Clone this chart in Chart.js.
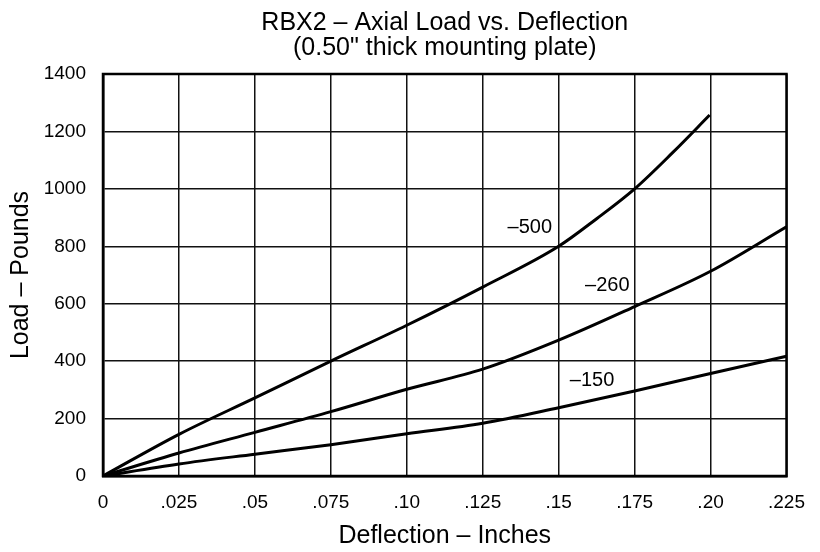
<!DOCTYPE html>
<html>
<head>
<meta charset="utf-8">
<script src="https://cdn.jsdelivr.net/npm/chart.js@4/dist/chart.umd.min.js"></script>
<style>
  html, body { margin: 0; padding: 0; background: #fff; }
  canvas { display: block; }
</style>
</head>
<body>
<canvas id="c" width="820" height="552"></canvas>
<script>
// ---- data ----
const titleLines = ['RBX2 – Axial Load vs. Deflection', '(0.50" thick mounting plate)'];
const xTitle = 'Deflection – Inches';
const yTitle = 'Load – Pounds';
const xTickValues = [0, 0.025, 0.05, 0.075, 0.10, 0.125, 0.15, 0.175, 0.20, 0.225];
const xTickLabels = ['0', '.025', '.05', '.075', '.10', '.125', '.15', '.175', '.20', '.225'];
const yTickValues = [0, 200, 400, 600, 800, 1000, 1200, 1400];
const yTickLabels = ['0', '200', '400', '600', '800', '1000', '1200', '1400'];
const deflection500 = [0, 0.025, 0.05, 0.075, 0.10, 0.125, 0.15, 0.1625, 0.175, 0.1875, 0.1997];
const load500 = [0, 145, 272, 400, 525, 658, 800, 896, 1000, 1126, 1257];
const deflection260 = [0, 0.025, 0.05, 0.075, 0.10, 0.125, 0.15, 0.175, 0.20, 0.225];
const load260 = [0, 80, 152, 224, 302, 372, 473, 590, 713, 868];
const deflection150 = [0, 0.025, 0.05, 0.075, 0.10, 0.125, 0.15, 0.175, 0.20, 0.225];
const load150 = [0, 42, 76, 109, 147, 184, 238, 296, 357, 417];
const seriesNames = ['–500', '–260', '–150'];
const labelAnchorX = [0.1405, 0.166, 0.161];
const labelAnchorY = [866, 665, 331];

const FONT = "'Liberation Sans', Arial, Helvetica, sans-serif";
Chart.defaults.font.family = FONT;
Chart.defaults.color = '#000';

function pts(xs, ys) { return ys.map((y, i) => ({ x: xs[i], y: y })); }

const frame = {
  id: 'frame',
  afterDatasetsDraw(chart) {
    const { ctx, chartArea: a } = chart;
    ctx.save();
    ctx.strokeStyle = '#000';
    ctx.lineWidth = 2.5;
    ctx.strokeRect(a.left, a.top, a.right - a.left, a.bottom - a.top);
    ctx.restore();
  }
};

const curveLabels = {
  id: 'curveLabels',
  afterDatasetsDraw(chart) {
    const { ctx, scales } = chart;
    ctx.save();
    ctx.fillStyle = '#000';
    ctx.font = '20px ' + FONT;
    ctx.textAlign = 'center';
    ctx.textBaseline = 'middle';
    seriesNames.forEach((n, i) => {
      ctx.fillText(n, scales.x.getPixelForValue(labelAnchorX[i]), scales.y.getPixelForValue(labelAnchorY[i]));
    });
    ctx.restore();
  }
};

const topTitle = {
  id: 'topTitle',
  afterDraw(chart) {
    const { ctx, chartArea: a } = chart;
    const cx = (a.left + a.right) / 2;
    ctx.save();
    ctx.fillStyle = '#000';
    ctx.font = '25px ' + FONT;
    ctx.textAlign = 'center';
    ctx.textBaseline = 'alphabetic';
    ctx.fillText(titleLines[0], cx, 30);
    ctx.fillText(titleLines[1], cx, 55);
    ctx.restore();
  }
};

const lineStyle = { borderColor: '#000', borderWidth: 3, pointRadius: 0, fill: false, cubicInterpolationMode: 'monotone' };

new Chart(document.getElementById('c'), {
  type: 'line',
  data: {
    datasets: [
      Object.assign({ label: seriesNames[0], data: pts(deflection500, load500) }, lineStyle),
      Object.assign({ label: seriesNames[1], data: pts(deflection260, load260) }, lineStyle),
      Object.assign({ label: seriesNames[2], data: pts(deflection150, load150) }, lineStyle)
    ]
  },
  options: {
    responsive: false,
    animation: false,
    events: [],
    layout: { padding: { top: 74, right: 27, left: 0, bottom: 0 } },
    plugins: { legend: { display: false }, tooltip: { enabled: false }, title: { display: false } },
    scales: {
      x: {
        type: 'linear',
        min: 0,
        max: 0.225,
        afterBuildTicks: (s) => { s.ticks = xTickValues.map(v => ({ value: v })); },
        afterFit: (s) => { s.height = 76; },
        ticks: {
          autoSkip: false, maxRotation: 0, minRotation: 0,
          padding: 15,
          font: { size: 19 },
          color: '#000',
          callback: (v, i) => xTickLabels[i]
        },
        grid: { color: '#111', lineWidth: 1.5, drawTicks: false },
        border: { display: true, color: '#000', width: 2.5 },
        title: { display: true, text: xTitle, font: { size: 25, lineHeight: 1.2 }, color: '#000', padding: { top: 0, bottom: 1 } }
      },
      y: {
        min: 0,
        max: 1400,
        afterBuildTicks: (s) => { s.ticks = yTickValues.map(v => ({ value: v })); },
        afterFit: (s) => { s.width = 103; },
        ticks: { padding: 17, font: { size: 19 }, color: '#000', callback: (v, i) => yTickLabels[i] },
        grid: { color: '#111', lineWidth: 1.5, drawTicks: false },
        border: { display: true, color: '#000', width: 2.5 },
        title: { display: true, text: yTitle, font: { size: 25, lineHeight: 1.2 }, color: '#000', padding: { top: 6, bottom: 0 } }
      }
    }
  },
  plugins: [frame, curveLabels, topTitle]
});
</script>
</body>
</html>
